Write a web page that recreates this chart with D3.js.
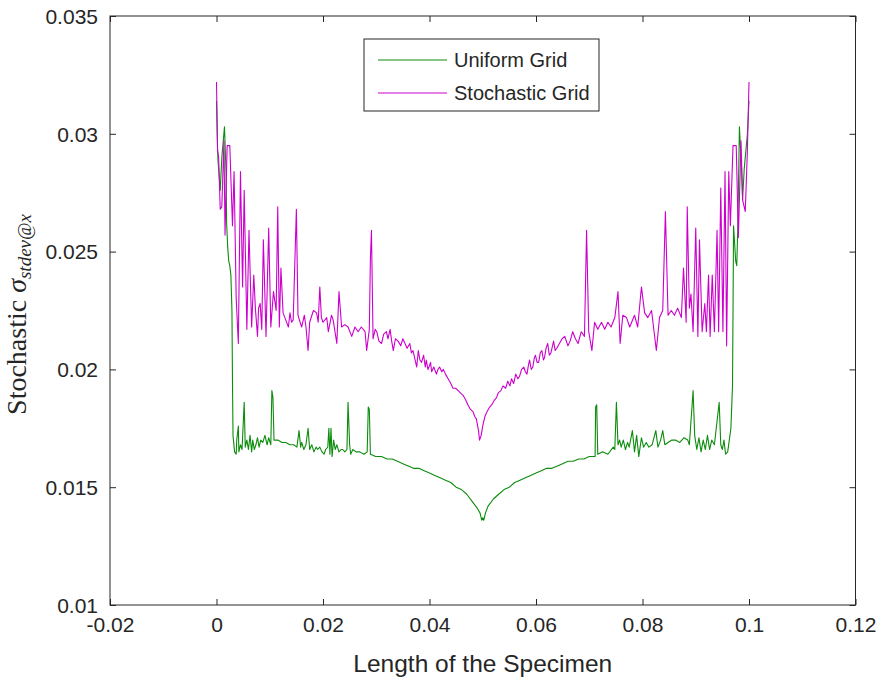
<!DOCTYPE html>
<html>
<head>
<meta charset="utf-8">
<script src="https://cdn.jsdelivr.net/npm/d3@7"></script>
<style>
  html, body { margin: 0; padding: 0; background: #ffffff; }
  svg { display: block; }
</style>
</head>
<body>
<svg id="chart" width="885" height="681"></svg>
<script>
// ---------------- DATA ----------------
const xTicks = [-0.02, 0, 0.02, 0.04, 0.06, 0.08, 0.1, 0.12];
const xTickLabels = ["-0.02", "0", "0.02", "0.04", "0.06", "0.08", "0.1", "0.12"];
const yTicks = [0.01, 0.015, 0.02, 0.025, 0.03, 0.035];
const yTickLabels = ["0.01", "0.015", "0.02", "0.025", "0.03", "0.035"];
const seriesNames = ["Uniform Grid", "Stochastic Grid"];

const uniformX = [
  0.0000, 0.0002, 0.0003, 0.0007, 0.0010, 0.0015, 0.0018, 0.0019, 0.0021, 0.0023,
  0.0025, 0.0027, 0.0029, 0.0030, 0.0031, 0.0034, 0.0037, 0.0038, 0.0041, 0.0042,
  0.0045, 0.0048, 0.0052, 0.0054, 0.0057, 0.0060, 0.0063, 0.0066, 0.0068, 0.0071,
  0.0074, 0.0077, 0.0080, 0.0083, 0.0087, 0.0091, 0.0095, 0.0098, 0.0102, 0.0104,
  0.0106, 0.0108, 0.0115, 0.0123, 0.0130, 0.0138, 0.0145, 0.0151, 0.0155, 0.0158,
  0.0160, 0.0164, 0.0168, 0.0172, 0.0175, 0.0179, 0.0183, 0.0187, 0.0190, 0.0194,
  0.0198, 0.0202, 0.0205, 0.0209, 0.0211, 0.0213, 0.0215, 0.0217, 0.0220, 0.0223,
  0.0226, 0.0230, 0.0234, 0.0237, 0.0241, 0.0245, 0.0247, 0.0250, 0.0252, 0.0256,
  0.0262, 0.0269, 0.0277, 0.0283, 0.0285, 0.0287, 0.0289, 0.0299, 0.0310, 0.0320,
  0.0330, 0.0340, 0.0350, 0.0360, 0.0370, 0.0380, 0.0390, 0.0400, 0.0410, 0.0420,
  0.0430, 0.0440, 0.0450, 0.0460, 0.0470, 0.0480, 0.0490, 0.0495,
  0.0498, 0.0500, 0.0502, 0.0505, 0.0510, 0.0520, 0.0530, 0.0540, 0.0550, 0.0560,
  0.0570, 0.0580, 0.0590, 0.0600, 0.0610, 0.0620, 0.0630, 0.0640, 0.0650, 0.0660,
  0.0670, 0.0680, 0.0690, 0.0700, 0.0711, 0.0712, 0.0714, 0.0716,
  0.0725, 0.0735, 0.0745, 0.0748, 0.0751, 0.0754, 0.0757, 0.0760, 0.0764, 0.0768,
  0.0772, 0.0775, 0.0781, 0.0785, 0.0789, 0.0793, 0.0798, 0.0802, 0.0807, 0.0812,
  0.0818, 0.0825, 0.0829, 0.0834, 0.0838, 0.0842, 0.0848, 0.0855, 0.0862, 0.0870,
  0.0878, 0.0885, 0.0888, 0.0895, 0.0898, 0.0902, 0.0906, 0.0910, 0.0914, 0.0918,
  0.0922, 0.0926, 0.0930, 0.0935, 0.0944, 0.0947, 0.0950, 0.0953, 0.0956, 0.0960,
  0.0963, 0.0966, 0.0969, 0.0970, 0.0971, 0.0975, 0.0977, 0.0979, 0.0982, 0.0986,
  0.0988, 0.0991, 0.0995, 0.0997, 0.1000
];
const uniformY = [
  0.0314, 0.0293, 0.0288, 0.0276, 0.0290, 0.0303, 0.0283, 0.0262, 0.0252, 0.0246,
  0.0244, 0.0240, 0.0225, 0.0195, 0.0172, 0.0165, 0.0164, 0.0170, 0.0176, 0.0165,
  0.0168, 0.0166, 0.0186, 0.0167, 0.0170, 0.0166, 0.0172, 0.0165, 0.0170, 0.0166,
  0.0168, 0.0171, 0.0167, 0.0170, 0.0169, 0.0172, 0.0168, 0.0171, 0.0168, 0.0191,
  0.0188, 0.0170, 0.0170, 0.0169, 0.0169, 0.0168, 0.0168, 0.0167, 0.0174, 0.0167,
  0.0169, 0.0166, 0.0168, 0.0175, 0.0166, 0.0168, 0.0165, 0.0167, 0.0166, 0.0167,
  0.0165, 0.0164, 0.0166, 0.0167, 0.0175, 0.0164, 0.0175, 0.0163, 0.0170, 0.0166,
  0.0168, 0.0165, 0.0166, 0.0166, 0.0165, 0.0166, 0.0186, 0.0168, 0.0164, 0.0166,
  0.0165, 0.0165, 0.0164, 0.0165, 0.0184, 0.0183, 0.0164, 0.0163, 0.0163, 0.0162,
  0.0162, 0.0161, 0.0160, 0.0159, 0.0158, 0.0158, 0.0157, 0.0156, 0.0155, 0.0154,
  0.0153, 0.0152, 0.0150, 0.0149, 0.0147, 0.0144, 0.0141, 0.0139,
  0.0136, 0.0137, 0.0136, 0.0139, 0.0142, 0.0145, 0.0147, 0.0149, 0.0150, 0.0152,
  0.0153, 0.0154, 0.0155, 0.0156, 0.0157, 0.0158, 0.0158, 0.0159, 0.0160, 0.0161,
  0.0161, 0.0162, 0.0162, 0.0163, 0.0163, 0.0184, 0.0185, 0.0164,
  0.0165, 0.0164, 0.0167, 0.0166, 0.0186, 0.0168, 0.0170, 0.0167, 0.0170, 0.0166,
  0.0169, 0.0167, 0.0174, 0.0165, 0.0172, 0.0163, 0.0171, 0.0167, 0.0169, 0.0167,
  0.0168, 0.0174, 0.0167, 0.0170, 0.0174, 0.0168, 0.0169, 0.0170, 0.0170, 0.0169,
  0.0171, 0.0170, 0.0168, 0.0191, 0.0172, 0.0166, 0.0171, 0.0165, 0.0170, 0.0166,
  0.0172, 0.0166, 0.0170, 0.0168, 0.0186, 0.0168, 0.0166, 0.0170, 0.0164, 0.0165,
  0.0170, 0.0175, 0.0193, 0.0225, 0.0261, 0.0246, 0.0244, 0.0260, 0.0303, 0.0285,
  0.0272, 0.0285, 0.0295, 0.0300, 0.0314
];

const stochasticX = [
  0.0000, 0.0002, 0.0004, 0.0007, 0.0010, 0.0014, 0.0016, 0.0020, 0.0025, 0.0030,
  0.0033, 0.0037, 0.0041, 0.0045, 0.0049, 0.0052, 0.0057, 0.0061, 0.0066, 0.0070,
  0.0073, 0.0077, 0.0079, 0.0082, 0.0085, 0.0088, 0.0093, 0.0098, 0.0102, 0.0107,
  0.0112, 0.0115, 0.0118, 0.0121, 0.0125, 0.0130, 0.0135, 0.0138, 0.0141, 0.0144,
  0.0150, 0.0153, 0.0157, 0.0160, 0.0165, 0.0168, 0.0172, 0.0175, 0.0182, 0.0188,
  0.0191, 0.0194, 0.0197, 0.0200, 0.0207, 0.0210, 0.0216, 0.0219, 0.0226, 0.0230,
  0.0235, 0.0241, 0.0247, 0.0254, 0.0260, 0.0266, 0.0272, 0.0279, 0.0282, 0.0287,
  0.0289, 0.0291, 0.0294, 0.0298, 0.0301, 0.0305, 0.0310, 0.0314, 0.0319, 0.0322,
  0.0326, 0.0329, 0.0332, 0.0336, 0.0341, 0.0346, 0.0350, 0.0354, 0.0358, 0.0363,
  0.0366, 0.0369, 0.0372, 0.0376, 0.0379, 0.0382, 0.0385, 0.0389, 0.0392, 0.0394,
  0.0397, 0.0399, 0.0402, 0.0404, 0.0408, 0.0413, 0.0416, 0.0419, 0.0423, 0.0426,
  0.0430, 0.0435, 0.0440, 0.0444, 0.0449, 0.0454, 0.0458, 0.0463, 0.0468, 0.0472,
  0.0477, 0.0482, 0.0485, 0.0488, 0.0492, 0.0494, 0.0497, 0.0500, 0.0504, 0.0508,
  0.0513, 0.0517, 0.0522, 0.0526, 0.0529, 0.0534, 0.0538,
  0.0543, 0.0547, 0.0551, 0.0554, 0.0558, 0.0562, 0.0566, 0.0569, 0.0573, 0.0577,
  0.0580, 0.0583, 0.0586, 0.0588, 0.0591, 0.0594, 0.0597, 0.0599, 0.0602, 0.0605,
  0.0608, 0.0611, 0.0614, 0.0616, 0.0619, 0.0622, 0.0625, 0.0628, 0.0631, 0.0633,
  0.0636, 0.0639, 0.0644, 0.0649, 0.0654, 0.0660, 0.0664, 0.0669,
  0.0674, 0.0679, 0.0685, 0.0691, 0.0695, 0.0699, 0.0705, 0.0710, 0.0716, 0.0723, 0.0729,
  0.0735, 0.0741, 0.0748, 0.0754, 0.0758, 0.0763, 0.0770, 0.0776, 0.0785, 0.0791,
  0.0798, 0.0804, 0.0810, 0.0817, 0.0826, 0.0832, 0.0838, 0.0843, 0.0848, 0.0854,
  0.0860, 0.0866, 0.0873, 0.0877, 0.0882, 0.0884, 0.0888, 0.0891, 0.0895, 0.0900,
  0.0904, 0.0907, 0.0912, 0.0917, 0.0920, 0.0924, 0.0927, 0.0931, 0.0935, 0.0940,
  0.0943, 0.0947, 0.0951, 0.0955, 0.0958, 0.0962, 0.0965, 0.0970, 0.0976, 0.0980,
  0.0985, 0.0988, 0.0993, 0.0997, 0.1000
];
const stochasticY = [
  0.0322, 0.0293, 0.0290, 0.0268, 0.0269, 0.0297, 0.0257, 0.0295, 0.0295, 0.0261,
  0.0284, 0.0230, 0.0211, 0.0284, 0.0235, 0.0276, 0.0217, 0.0259, 0.0218, 0.0240,
  0.0226, 0.0214, 0.0226, 0.0228, 0.0217, 0.0255, 0.0214, 0.0260, 0.0218, 0.0233,
  0.0225, 0.0269, 0.0218, 0.0243, 0.0224, 0.0221, 0.0218, 0.0224, 0.0220, 0.0221,
  0.0268, 0.0223, 0.0220, 0.0218, 0.0223, 0.0218, 0.0208, 0.0220, 0.0225, 0.0224,
  0.0220, 0.0235, 0.0222, 0.0220, 0.0222, 0.0216, 0.0223, 0.0221, 0.0211, 0.0233,
  0.0218, 0.0219, 0.0218, 0.0214, 0.0218, 0.0216, 0.0218, 0.0216, 0.0208, 0.0217,
  0.0247, 0.0259, 0.0213, 0.0217, 0.0216, 0.0212, 0.0211, 0.0215, 0.0216, 0.0213,
  0.0217, 0.0212, 0.0208, 0.0213, 0.0212, 0.0210, 0.0213, 0.0211, 0.0209, 0.0211,
  0.0207, 0.0208, 0.0205, 0.0201, 0.0208, 0.0204, 0.0203, 0.0206, 0.0201, 0.0204,
  0.0200, 0.0201, 0.0203, 0.0199, 0.0201, 0.0198, 0.0200, 0.0201, 0.0199, 0.0200,
  0.0198, 0.0196, 0.0194, 0.0192, 0.0192, 0.0191, 0.0190, 0.0189, 0.0187, 0.0185,
  0.0183, 0.0182, 0.0180, 0.0179, 0.0174, 0.0170, 0.0172, 0.0176, 0.0180, 0.0182,
  0.0184, 0.0185, 0.0187, 0.0188, 0.0190, 0.0191, 0.0193,
  0.0192, 0.0195, 0.0193, 0.0196, 0.0194, 0.0198, 0.0196, 0.0197, 0.0200, 0.0201,
  0.0199, 0.0198, 0.0202, 0.0204, 0.0200, 0.0201, 0.0205, 0.0206, 0.0203, 0.0203,
  0.0207, 0.0208, 0.0204, 0.0205, 0.0209, 0.0211, 0.0206, 0.0207, 0.0210, 0.0212,
  0.0208, 0.0209, 0.0211, 0.0213, 0.0214, 0.0210, 0.0212, 0.0216,
  0.0213, 0.0211, 0.0216, 0.0214, 0.0259, 0.0216, 0.0208, 0.0220, 0.0217, 0.0220, 0.0217,
  0.0220, 0.0218, 0.0222, 0.0233, 0.0211, 0.0223, 0.0222, 0.0218, 0.0223, 0.0218,
  0.0235, 0.0224, 0.0222, 0.0225, 0.0208, 0.0222, 0.0225, 0.0267, 0.0223, 0.0225,
  0.0223, 0.0226, 0.0222, 0.0243, 0.0220, 0.0269, 0.0226, 0.0232, 0.0216, 0.0260,
  0.0214, 0.0255, 0.0216, 0.0228, 0.0216, 0.0240, 0.0214, 0.0240, 0.0216, 0.0259,
  0.0216, 0.0277, 0.0216, 0.0284, 0.0210, 0.0284, 0.0261, 0.0295, 0.0295, 0.0256,
  0.0297, 0.0272, 0.0267, 0.0293, 0.0322
];

// ---------------- LAYOUT ----------------
const svg = d3.select("#chart");
const L = 110, R = 855.5, T = 16, B = 605;
const axisColor = "#262626";
const greenColor = "#0c8c0c";
const magentaColor = "#cc00cc";

const x = d3.scaleLinear().domain([-0.02, 0.12]).range([L, R]);
const y = d3.scaleLinear().domain([0.01, 0.035]).range([B, T]);

svg.append("rect").attr("x", L).attr("y", T).attr("width", R - L).attr("height", B - T)
  .attr("fill", "#ffffff");

svg.append("clipPath").attr("id", "clip").append("rect")
  .attr("x", L).attr("y", T).attr("width", R - L).attr("height", B - T);

const lineGen = d3.line().x(d => x(d[0])).y(d => y(d[1]));
const uniformData = uniformX.map((v, i) => [v, uniformY[i]]);
const stochasticData = stochasticX.map((v, i) => [v, stochasticY[i]]);

const plot = svg.append("g").attr("clip-path", "url(#clip)");
plot.append("path").datum(uniformData).attr("d", lineGen)
  .attr("fill", "none").attr("stroke", greenColor).attr("stroke-width", 1.1)
  .attr("stroke-linejoin", "round");
plot.append("path").datum(stochasticData).attr("d", lineGen)
  .attr("fill", "none").attr("stroke", magentaColor).attr("stroke-width", 1.1)
  .attr("stroke-linejoin", "round");

// axes
const tickLen = 6;
const fontTick = "21px 'Liberation Sans', Arial, sans-serif";

const xAxis = d3.axisBottom(x).tickValues(xTicks).tickSize(-tickLen).tickPadding(12)
  .tickFormat((d, i) => xTickLabels[i]);
const gx = svg.append("g").attr("transform", `translate(0,${B})`).call(xAxis);
gx.select(".domain").remove();
gx.selectAll("line").attr("stroke", axisColor);
gx.selectAll("text").style("font", fontTick).attr("fill", axisColor);

const yAxis = d3.axisLeft(y).tickValues(yTicks).tickSize(-tickLen).tickPadding(12)
  .tickFormat((d, i) => yTickLabels[i]);
const gy = svg.append("g").attr("transform", `translate(${L},0)`).call(yAxis);
gy.select(".domain").remove();
gy.selectAll("line").attr("stroke", axisColor);
gy.selectAll("text").style("font", fontTick).attr("fill", axisColor).attr("dy", "0.35em");

// mirrored ticks top/right
const xTop = d3.axisTop(x).tickValues(xTicks).tickSize(-tickLen).tickFormat("");
const gxt = svg.append("g").attr("transform", `translate(0,${T})`).call(xTop);
gxt.select(".domain").remove();
gxt.selectAll("line").attr("stroke", axisColor);
const yRight = d3.axisRight(y).tickValues(yTicks).tickSize(-tickLen).tickFormat("");
const gyr = svg.append("g").attr("transform", `translate(${R},0)`).call(yRight);
gyr.select(".domain").remove();
gyr.selectAll("line").attr("stroke", axisColor);

// box
svg.append("rect").attr("x", L).attr("y", T).attr("width", R - L).attr("height", B - T)
  .attr("fill", "none").attr("stroke", axisColor).attr("stroke-width", 1);

// x label
svg.append("text").attr("x", (L + R) / 2).attr("y", 672)
  .attr("text-anchor", "middle").attr("fill", axisColor)
  .style("font", "24.5px 'Liberation Sans', Arial, sans-serif")
  .text("Length of the Specimen");

// y label (LaTeX-like)
const yl = svg.append("text")
  .attr("transform", `translate(26,${(T + B) / 2 + 4}) rotate(-90)`)
  .attr("text-anchor", "middle").attr("fill", axisColor)
  .style("font-family", "'Liberation Serif', 'DejaVu Serif', serif")
  .style("font-size", "28px");
yl.append("tspan").text("Stochastic ");
yl.append("tspan").style("font-style", "italic").text("σ");
yl.append("tspan").style("font-style", "italic").style("font-size", "19px")
  .attr("dy", "5").text("stdev@x");

// legend
const lg = svg.append("g");
const lgX = 364, lgY = 39, lgW = 235, lgH = 72;
lg.append("rect").attr("x", lgX).attr("y", lgY).attr("width", lgW).attr("height", lgH)
  .attr("fill", "#ffffff").attr("stroke", axisColor).attr("stroke-width", 1);
const legendColors = [greenColor, magentaColor];
const legendRowY = [60, 93];
seriesNames.forEach((name, i) => {
  lg.append("line").attr("x1", 378).attr("x2", 447)
    .attr("y1", legendRowY[i]).attr("y2", legendRowY[i])
    .attr("stroke", legendColors[i]).attr("stroke-width", 1.1);
  lg.append("text").attr("x", 454).attr("y", legendRowY[i]).attr("dy", "0.35em")
    .attr("fill", axisColor)
    .style("font", "20px 'Liberation Sans', Arial, sans-serif")
    .text(name);
});
</script>
</body>
</html>
